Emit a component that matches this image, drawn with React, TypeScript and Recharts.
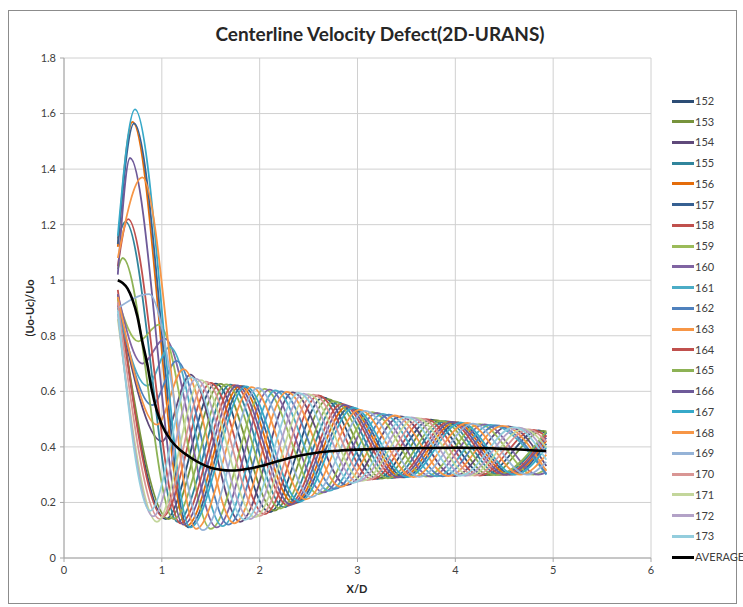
import React from 'react';
import { LineChart, Line, XAxis, YAxis, CartesianGrid, Legend } from 'recharts';

const X_TICKS = [0, 1, 2, 3, 4, 5, 6];
const Y_TICKS = [0, 0.2, 0.4, 0.6, 0.8, 1, 1.2, 1.4, 1.6, 1.8];

const s152 = [[0.55,0.95],[1.04,0.14],[1.55,0.628],[2.10,0.165],[2.65,0.578],[3.20,0.285],[3.75,0.498],[4.30,0.298],[4.85,0.459],[4.93,0.449]];
const s153 = [[0.55,0.94],[1.07,0.14],[1.60,0.627],[2.15,0.171],[2.70,0.572],[3.25,0.286],[3.80,0.496],[4.35,0.298],[4.90,0.458],[4.93,0.456]];
const s154 = [[0.55,0.91],[1.00,0.42],[1.29,0.66],[1.80,0.13],[2.34,0.596],[2.89,0.262],[3.44,0.51],[3.99,0.295],[4.54,0.474],[4.93,0.331]];
const s155 = [[0.55,1.15],[0.63,1.21],[1.16,0.13],[1.70,0.624],[2.25,0.183],[2.80,0.56],[3.35,0.288],[3.90,0.493],[4.45,0.299],[4.93,0.451]];
const s156 = [[0.55,1.12],[0.70,1.57],[1.25,0.115],[1.80,0.62],[2.35,0.196],[2.90,0.548],[3.45,0.29],[4.00,0.489],[4.55,0.30],[4.93,0.422]];
const s157 = [[0.55,1.13],[0.716,1.565],[1.27,0.11],[1.83,0.619],[2.38,0.20],[2.93,0.544],[3.48,0.29],[4.03,0.488],[4.58,0.30],[4.93,0.411]];
const s158 = [[0.55,0.965],[1.01,0.15],[1.50,0.63],[2.05,0.158],[2.60,0.585],[3.15,0.283],[3.70,0.50],[4.25,0.297],[4.80,0.461],[4.93,0.436]];
const s159 = [[0.55,0.93],[0.76,0.78],[0.97,0.84],[1.50,0.105],[2.05,0.609],[2.60,0.23],[3.15,0.525],[3.70,0.293],[4.25,0.482],[4.80,0.30],[4.93,0.321]];
const s160 = [[0.55,0.95],[0.80,0.70],[1.03,0.79],[1.56,0.11],[2.10,0.606],[2.65,0.236],[3.20,0.522],[3.75,0.293],[4.30,0.481],[4.85,0.30],[4.93,0.308]];
const s161 = [[0.55,0.90],[0.85,0.62],[1.08,0.76],[1.62,0.115],[2.16,0.603],[2.71,0.242],[3.26,0.519],[3.81,0.294],[4.36,0.479],[4.93,0.30]];
const s162 = [[0.55,0.92],[0.90,0.55],[1.15,0.71],[1.68,0.12],[2.22,0.60],[2.77,0.249],[3.32,0.516],[3.87,0.294],[4.42,0.477],[4.93,0.302]];
const s163 = [[0.55,0.94],[0.95,0.48],[1.22,0.68],[1.74,0.125],[2.28,0.598],[2.83,0.256],[3.38,0.513],[3.93,0.295],[4.48,0.476],[4.93,0.313]];
const s164 = [[0.55,1.05],[0.655,1.22],[1.19,0.125],[1.74,0.622],[2.29,0.189],[2.84,0.555],[3.39,0.289],[3.94,0.491],[4.49,0.299],[4.93,0.442]];
const s165 = [[0.55,1.04],[0.60,1.08],[1.12,0.14],[1.66,0.625],[2.21,0.178],[2.76,0.565],[3.31,0.287],[3.86,0.494],[4.41,0.298],[4.93,0.456]];
const s166 = [[0.55,1.02],[0.675,1.44],[1.22,0.12],[1.77,0.621],[2.32,0.192],[2.87,0.551],[3.42,0.29],[3.97,0.49],[4.52,0.299],[4.93,0.433]];
const s167 = [[0.55,1.16],[0.725,1.615],[1.29,0.11],[1.86,0.618],[2.41,0.203],[2.96,0.541],[3.51,0.291],[4.06,0.487],[4.61,0.30],[4.93,0.398]];
const s168 = [[0.55,1.08],[0.80,1.37],[1.35,0.105],[1.92,0.615],[2.47,0.211],[3.02,0.534],[3.57,0.291],[4.12,0.486],[4.67,0.30],[4.93,0.372]];
const s169 = [[0.55,0.90],[0.87,0.95],[1.42,0.10],[1.98,0.612],[2.53,0.219],[3.08,0.53],[3.63,0.292],[4.18,0.484],[4.73,0.30],[4.93,0.346]];
const s170 = [[0.55,0.92],[0.98,0.14],[1.45,0.635],[2.00,0.152],[2.55,0.588],[3.10,0.28],[3.65,0.502],[4.20,0.297],[4.75,0.463],[4.93,0.419]];
const s171 = [[0.55,0.86],[0.95,0.13],[1.40,0.64],[1.95,0.147],[2.50,0.59],[3.05,0.278],[3.60,0.504],[4.15,0.297],[4.70,0.465],[4.93,0.398]];
const s172 = [[0.55,0.88],[0.91,0.15],[1.35,0.645],[1.90,0.14],[2.45,0.592],[3.00,0.275],[3.55,0.506],[4.10,0.296],[4.65,0.469],[4.93,0.376]];
const s173 = [[0.55,0.89],[0.88,0.17],[1.30,0.65],[1.85,0.137],[2.40,0.594],[2.95,0.27],[3.50,0.508],[4.05,0.296],[4.60,0.471],[4.93,0.354]];
const sAverage = [[0.55,1.0],[0.6,0.99],[0.65,0.97],[0.7,0.93],[0.75,0.87],[0.8,0.78],[0.85,0.70],[0.9,0.60],[0.95,0.53],[1.0,0.48],[1.1,0.42],[1.2,0.385],[1.3,0.36],[1.4,0.34],[1.5,0.325],[1.6,0.318],[1.7,0.315],[1.8,0.317],[1.9,0.322],[2.0,0.33],[2.2,0.35],[2.4,0.368],[2.6,0.38],[2.8,0.386],[3.0,0.39],[3.5,0.395],[4.0,0.397],[4.5,0.393],[4.93,0.385]];

const SERIES_NAMES = ['152','153','154','155','156','157','158','159','160','161','162','163','164','165','166','167','168','169','170','171','172','173','AVERAGE'];
const SERIES_COLORS = ['#2C4D75','#77933C','#5F497A','#31859C','#E46C0A','#366092','#C0504D','#9BBB59','#8064A2','#4BACC6','#4F81BD','#F79646','#C0504D','#8DB255','#6E5A99','#36A9C9','#F79646','#95B3D7','#D99694','#C3D69B','#B3A2C7','#93CDDD','#000000'];
const SERIES_DATA = [s152,s153,s154,s155,s156,s157,s158,s159,s160,s161,s162,s163,s164,s165,s166,s167,s168,s169,s170,s171,s172,s173,sAverage];

const toPoints = (arr: number[][]) => arr.map(([x, y]) => ({ x, y }));

const FONT = 'Lato, "Liberation Sans", sans-serif';

const renderLegend = () => (
  <div style={{ position: 'relative', width: 75, height: 480, fontFamily: FONT }}>
    {SERIES_NAMES.map((name, i) => {
      const cy = 11 + i * 20.73;
      return (
        <div key={name}>
          <div style={{ position: 'absolute', left: 4, top: cy - 1.5, width: 22, height: 3, background: SERIES_COLORS[i] }} />
          <div style={{ position: 'absolute', left: 27, top: cy - 7, fontSize: 11, lineHeight: '14px', color: '#404040', whiteSpace: 'nowrap' }}>{name}</div>
        </div>
      );
    })}
  </div>
);

export default function App() {
  return (
    <div style={{ position: 'absolute', left: 0, top: 0, width: 743, height: 607, background: '#ffffff', fontFamily: FONT }}>
      <div style={{ position: 'absolute', left: 8, top: 10, width: 729, height: 594, border: '1px solid #8c8c8c', boxSizing: 'border-box' }} />
      <div style={{ position: 'absolute', left: 0, top: 0 }}>
        <LineChart width={743} height={607} margin={{ top: 58, right: 92, bottom: 19, left: 4 }}>
          <CartesianGrid stroke="#d0d0d0" strokeWidth={1} />
          <XAxis
            type="number"
            dataKey="x"
            domain={[0, 6]}
            ticks={X_TICKS}
            height={30}
            allowDuplicatedCategory={false}
            axisLine={{ stroke: '#a6a6a6' }}
            tickLine={{ stroke: '#a6a6a6' }}
            tickSize={4}
            tickMargin={4}
            tick={{ fontSize: 11, fill: '#404040', fontFamily: FONT }}
          />
          <YAxis
            type="number"
            domain={[0, 1.8]}
            ticks={Y_TICKS}
            width={60}
            axisLine={{ stroke: '#a6a6a6' }}
            tickLine={{ stroke: '#a6a6a6' }}
            tickSize={4}
            tickMargin={4}
            tickFormatter={(v: number) => String(Math.round(v * 10) / 10)}
            tick={{ fontSize: 11, fill: '#404040', fontFamily: FONT }}
          />
          {SERIES_DATA.map((arr, i) => (
            <Line
              key={SERIES_NAMES[i]}
              name={SERIES_NAMES[i]}
              data={toPoints(arr)}
              dataKey="y"
              type="monotone"
              stroke={SERIES_COLORS[i]}
              strokeWidth={SERIES_NAMES[i] === 'AVERAGE' ? 2.6 : 1.8}
              dot={false}
              activeDot={false}
              isAnimationActive={false}
            />
          ))}
          <Legend
            layout="vertical"
            align="center"
            verticalAlign="middle"
            wrapperStyle={{ left: 668, top: 90, width: 75, height: 480 }}
            content={renderLegend}
          />
        </LineChart>
      </div>
      <div style={{ position: 'absolute', left: 0, width: 760, top: 22, textAlign: 'center', fontSize: 19, fontWeight: 700, color: '#262626', whiteSpace: 'nowrap' }}>
        Centerline Velocity Defect(2D-URANS)
      </div>
      <div style={{ position: 'absolute', left: 257, width: 200, top: 582, textAlign: 'center', fontSize: 11, fontWeight: 700, color: '#262626' }}>
        X/D
      </div>
      <div style={{ position: 'absolute', left: 30 - 50, top: 308 - 7, width: 100, height: 14, lineHeight: '14px', textAlign: 'center', fontSize: 11, fontWeight: 700, color: '#262626', transform: 'rotate(-90deg)', whiteSpace: 'nowrap' }}>
        (Uo-Uc)/Uo
      </div>
    </div>
  );
}
